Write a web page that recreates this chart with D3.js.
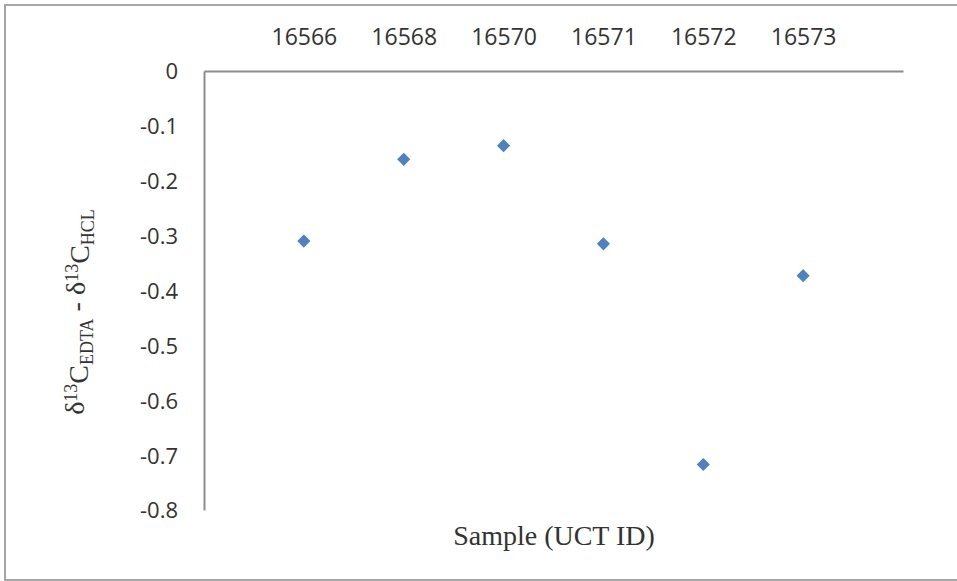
<!DOCTYPE html>
<html>
<head>
<meta charset="utf-8">
<script src="https://cdn.jsdelivr.net/npm/d3@7"></script>
<style>
	body { margin: 0; background: #fff; }
	svg text { fill: #333; }
	.tick-label { font-family: "Open Sans", sans-serif; }
	.title { font-family: "Liberation Serif", "DejaVu Serif", serif; }
</style>
</head>
<body>
<div id="chart"></div>
<script>
/* global d3 */

var samples = ["16566", "16568", "16570", "16571", "16572", "16573"];
var diffs = [-0.31, -0.161, -0.136, -0.315, -0.717, -0.373];
var yTicks = [0, -0.1, -0.2, -0.3, -0.4, -0.5, -0.6, -0.7, -0.8];

(function() {
	'use strict';

	var origWidth = 957,
		origHeight = 581,
		margin = { top: 71, right: 54, bottom: 71, left: 204 },
		width = origWidth - margin.left - margin.right,
		height = origHeight - margin.top - margin.bottom,
		axisColor = "#8c8c8c",
		pointColor = "#4f81bd",
		data = samples.map(function(s, i) { return { id: s, value: diffs[i], idx: i + 1 }; });

	var svg = d3.select("#chart").append("svg")
		.attr("width", origWidth)
		.attr("height", origHeight);

	// outer frame
	svg.append("rect")
		.attr("x", 5)
		.attr("y", 5)
		.attr("width", origWidth + 10)
		.attr("height", 575)
		.attr("fill", "none")
		.attr("stroke", "#a6a6a6")
		.attr("stroke-width", 2);

	var g = svg.append("g")
		.attr("transform", "translate(" + margin.left + "," + margin.top + ")");

	var x = d3.scaleLinear()
		.domain([0, samples.length + 1])
		.range([0, width]);

	var y = d3.scaleLinear()
		.domain([0, -0.8])
		.range([0, height]);

	// top axis: category labels
	g.append("g")
		.call(d3.axisTop(x)
			.tickValues(d3.range(1, samples.length + 1))
			.tickFormat(function(d) { return samples[d - 1]; })
			.tickSize(0)
			.tickPadding(26))
		.call(function(a) {
			a.select(".domain").attr("stroke", axisColor).attr("stroke-width", 2);
			a.selectAll("text")
				.attr("class", "tick-label")
				.style("font-size", "23px")
				.attr("fill", "#333");
		});

	// left axis, plain hyphen minus like the original
	g.append("g")
		.call(d3.axisLeft(y)
			.tickValues(yTicks)
			.tickFormat(function(d) { return d === 0 ? "0" : "-" + d3.format(".1f")(-d); })
			.tickSize(0)
			.tickPadding(26))
		.call(function(a) {
			a.select(".domain").attr("stroke", axisColor).attr("stroke-width", 2);
			a.selectAll("text")
				.attr("class", "tick-label")
				.style("font-size", "22px")
				.attr("fill", "#333")
				.attr("dy", "0.36em");
		});

	// diamond markers
	g.append("g")
		.selectAll("path")
		.data(data)
		.join("path")
		.attr("d", d3.symbol().type(d3.symbolDiamond2).size(110))
		.attr("transform", function(d) { return "translate(" + x(d.idx) + "," + y(d.value) + ")"; })
		.attr("fill", pointColor);

	// x title
	svg.append("text")
		.attr("class", "title")
		.attr("x", 554)
		.attr("y", 545)
		.attr("text-anchor", "middle")
		.style("font-size", "28px")
		.text("Sample (UCT ID)");

	// y title with super/subscripts
	var yt = svg.append("text")
		.attr("class", "title")
		.attr("transform", "translate(84,312) rotate(-90)")
		.attr("text-anchor", "middle")
		.style("font-size", "28px");
	yt.append("tspan").text("δ");
	yt.append("tspan").attr("dy", "-0.4em").style("font-size", "18px").text("13");
	yt.append("tspan").attr("dy", "0.4em").text("C");
	yt.append("tspan").attr("dy", "0.3em").style("font-size", "18px").text("EDTA");
	yt.append("tspan").attr("dy", "-0.3em").text(" - δ");
	yt.append("tspan").attr("dy", "-0.4em").style("font-size", "18px").text("13");
	yt.append("tspan").attr("dy", "0.4em").text("C");
	yt.append("tspan").attr("dy", "0.3em").style("font-size", "18px").text("HCL");
})();
</script>
</body>
</html>
